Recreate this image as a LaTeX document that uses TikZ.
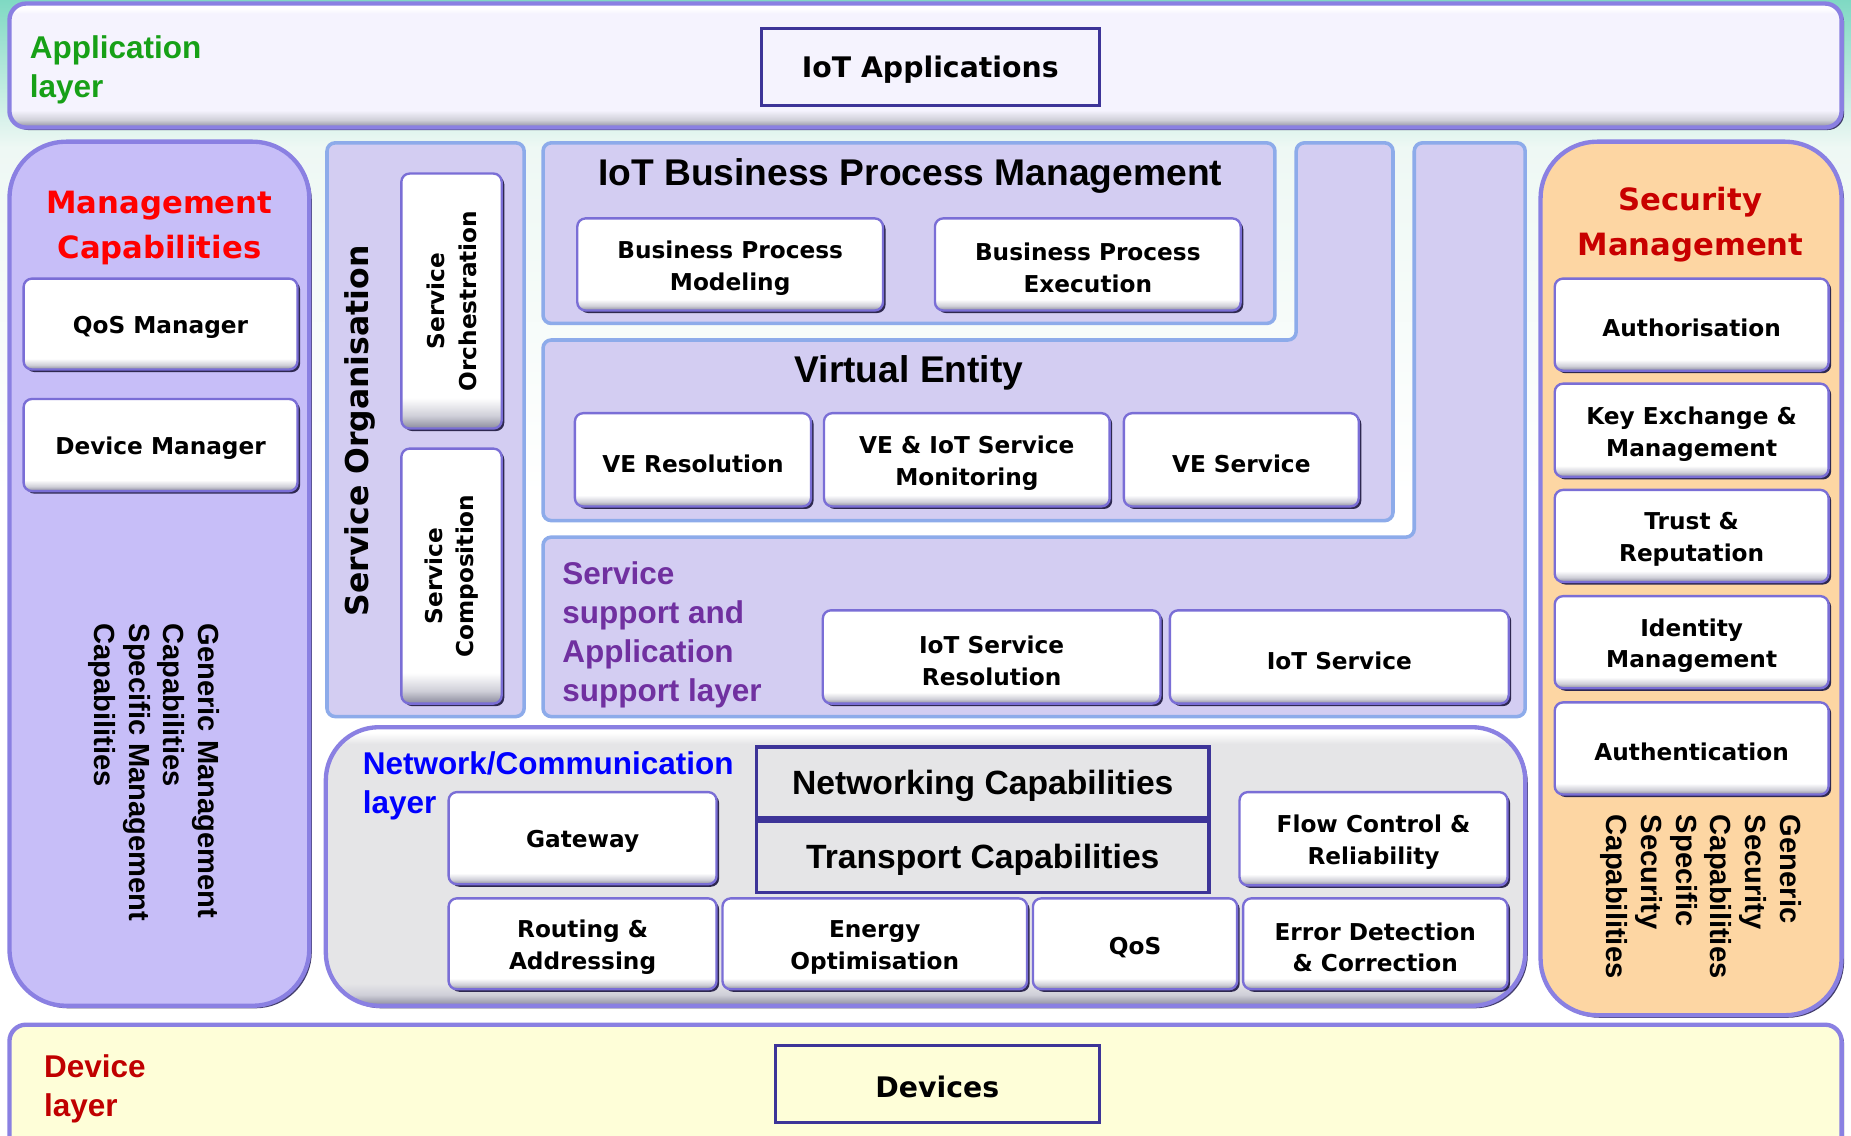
\documentclass[tikz,border=0pt]{standalone}
\usepackage{fontspec}
\setmainfont{DejaVu Sans}
\newfontfamily\arialfont{Liberation Sans}
\usetikzlibrary{fit,shadows}

% palette
\definecolor{bgteal}{HTML}{7FD9C3}
\definecolor{bgpale}{HTML}{EEF8F4}
\definecolor{appfill}{HTML}{F5F3FE}
\definecolor{panelline}{HTML}{8A80E2}
\definecolor{panelshadow}{HTML}{302A5E}
\definecolor{mgmtfill}{HTML}{C7BEF8}
\definecolor{lavfill}{HTML}{D3CDF2}
\definecolor{blueline}{HTML}{8DABEA}
\definecolor{netfill}{HTML}{E5E5E7}
\definecolor{secfill}{HTML}{FDD6A3}
\definecolor{devfill}{HTML}{FEFED8}
\definecolor{boxline}{HTML}{7A6ED6}
\definecolor{boxshadow}{HTML}{2E2850}
\definecolor{boxdk}{HTML}{8A8A9C}
\definecolor{boxmid}{HTML}{CFCFD8}
\definecolor{darkline}{HTML}{3D3498}
\definecolor{appgreen}{HTML}{17A017}
\definecolor{mgmtred}{HTML}{FF0000}
\definecolor{secred}{HTML}{C80000}
\definecolor{netblue}{HTML}{0000FF}
\definecolor{sspurple}{HTML}{7030A0}
\definecolor{devred}{HTML}{C00000}

% white face with a grey bevel along the bottom edge
\pgfdeclareverticalshading{boxshade}{100bp}{color(0bp)=(boxdk); color(25bp)=(boxdk); color(27.5bp)=(boxmid); color(31bp)=(white); color(100bp)=(white)}
\pgfdeclareverticalshading{appshade}{100bp}{color(0bp)=(boxdk); color(25bp)=(boxdk); color(28bp)=(boxmid); color(32bp)=(appfill); color(71bp)=(appfill); color(73bp)=(white); color(100bp)=(white)}
\pgfdeclareverticalshading{netshade}{100bp}{color(0bp)=(boxdk); color(25bp)=(boxdk); color(27bp)=(boxmid); color(29bp)=(netfill); color(72bp)=(netfill); color(74bp)=(white); color(100bp)=(white)}

\newcommand\bxfont{\fontsize{11.8pt}{16.2pt}\selectfont\bfseries}
\newcommand\bigbxfont{\fontsize{14.4pt}{18pt}\selectfont\bfseries}
\newcommand\redtitlefont{\fontsize{15.6pt}{22.8pt}\selectfont\bfseries}
\newcommand\paneltitlefont{\arialfont\bfseries\fontsize{18.9pt}{22pt}\selectfont}
\newcommand\capfont{\arialfont\bfseries\fontsize{17.1pt}{20pt}\selectfont}
\newcommand\layerfont{\arialfont\bfseries\fontsize{16pt}{19.8pt}\selectfont}
\newcommand\vertfont{\arialfont\bfseries\fontsize{14.8pt}{17.7pt}\selectfont}

\begin{document}
\begin{tikzpicture}[x=0.6pt,y=-0.6pt,
  % a box spans two corners (#1) and carries its text (#2) centred inside
  box/.style 2 args={fit={#1}, inner sep=0pt, rounded corners=4.2pt, draw=boxline,
    line width=1.2pt, shade, shading=boxshade,
    drop shadow={shadow xshift=1.3pt, shadow yshift=-1.3pt, fill=boxshadow, opacity=1},
    label={[font=\bxfont, align=center, inner sep=0pt, yshift=-1.8pt]center:#2}},
  plainbox/.style 2 args={fit={#1}, inner sep=0pt, draw=darkline, line width=1.5pt,
    label={[font=\bigbxfont, inner sep=0pt, yshift=-1.5pt]center:#2}},
  capbox/.style 2 args={fit={#1}, inner sep=0pt, fill=netfill, draw=darkline, line width=1.8pt,
    label={[font=\capfont, inner sep=0pt, yshift=-1.6pt]center:#2}},
  panel/.style={draw=panelline, line width=2.2pt, rounded corners=#1,
    drop shadow={shadow xshift=1.3pt, shadow yshift=-1.3pt, fill=panelshadow, opacity=0.9}},
  lpanel/.style={fill=lavfill, draw=blueline, line width=1.8pt, rounded corners=4.2pt},
  layerlabel/.style={font=\layerfont, align=left, inner sep=0pt, anchor=west},
  vertlabel/.style={font=\vertfont, align=left, inner sep=0pt, rotate=-90, anchor=north west},
]
\useasboundingbox (0,0) rectangle (1568,962);
\clip (0,0) rectangle (1568,962);

% background wash
\fill[white] (0,0) rectangle (1568,962);
\shade[top color=bgteal, bottom color=bgpale] (0,0) rectangle (1568,125);
\shade[top color=bgpale, bottom color=white] (0,125) rectangle (1568,420);

% ---------------- application layer ----------------
\path[panel=8.4pt, shade, shading=appshade] (8,3) rectangle (1560,108);
\node[layerlabel, text=appgreen] (applabel) at (25,59.5) {Application\\layer};
\node[plainbox={(645,24)(931,89)}{IoT Applications}] (apps) {};

% ---------------- management capabilities ----------------
\path[panel=28.8pt, fill=mgmtfill] (8,120) rectangle (262,852);
\node[font=\redtitlefont, text=mgmtred, align=center] (mgmttitle) at (135,193.5) {Management\\Capabilities};
\node[box={(20,236)(252,313)}{QoS Manager}] (qosmgr) {};
\node[box={(20,338)(252,416)}{Device Manager}] (devmgr) {};
\node[vertlabel] (mgmtcaps) at (186.5,528) {Generic Management\\Capabilities\\Specific Management\\Capabilities};

% ---------------- service organisation ----------------
\path[lpanel] (277,121) rectangle (444,607);
\node[rotate=90, font={\fontsize{16pt}{19pt}\selectfont\bfseries}] (sorg) at (305,365) {Service Organisation};
\node[box={(340,147)(425,363)}{}] (orch) {};
\node[rotate=90, align=center, font=\bxfont] (orchtext) at (orch.center) {Service\\Orchestration};
\node[box={(340,380)(425,596)}{}] (comp) {};
\node[rotate=90, align=center, font=\bxfont] (comptext) at (comp.center) {Service\\Composition};

% ---------------- IoT business process management ----------------
\path[lpanel] (460,121) rectangle (1080,274);
\node[font=\paneltitlefont] (bpmtitle) at (771,149) {IoT Business Process Management};
\node[box={(489,185)(748,263)}{Business Process\\Modeling}] (bpmodel) {};
\node[box={(792,185)(1051,263)}{Business Process\\Execution}] (bpexec) {};

% ---------------- virtual entity ----------------
\path[lpanel] (460,288) -- (1098,288) -- (1098,121) -- (1180,121) -- (1180,441) -- (460,441) -- cycle;
\node[font=\paneltitlefont] (vetitle) at (770,316) {Virtual Entity};
\node[box={(487,350)(687,429)}{VE Resolution}] (veres) {};
\node[box={(698,350)(940,429)}{VE \& IoT Service\\Monitoring}] (vemon) {};
\node[box={(952,350)(1151,429)}{VE Service}] (veserv) {};

% ---------------- service support and application support ----------------
\path[lpanel] (460,455) -- (1198,455) -- (1198,121) -- (1292,121) -- (1292,607) -- (460,607) -- cycle;
\node[layerlabel, text=sspurple] (sslabel) at (476,537.5) {Service\\support and\\Application\\support layer};
\node[box={(697,517)(983,596)}{IoT Service\\Resolution}] (iotres) {};
\node[box={(991,517)(1278,596)}{IoT Service}] (iotserv) {};

% ---------------- network / communication layer ----------------
\path[panel=27pt, shade, shading=netshade] (276,616) rectangle (1292,852);
\node[layerlabel, text=netblue] (netlabel) at (307,665.5) {Network/Communication\\layer};
\node[box={(380,671)(607,749)}{Gateway}] (gateway) {};
\node[capbox={(641,633)(1024,693)}{Networking Capabilities}] (netcap) {};
\node[capbox={(641,696)(1024,756)}{Transport Capabilities}] (transcap) {};
\node[box={(1050,671)(1277,750)}{Flow Control \&\\Reliability}] (flow) {};
\node[box={(380,761)(607,838)}{Routing \&\\Addressing}] (routing) {};
\node[box={(612,761)(870,838)}{Energy\\Optimisation}] (energy) {};
\node[box={(875,761)(1048,838)}{QoS}] (qos) {};
\node[box={(1053,761)(1277,838)}{Error Detection\\\& Correction}] (errdet) {};

% ---------------- security management ----------------
\path[panel=28.8pt, fill=secfill] (1305,120) rectangle (1560,860);
\node[font=\redtitlefont, text=secred, align=center] (sectitle) at (1432,190) {Security\\Management};
\node[box={(1317,236)(1549,314)}{Authorisation}] (authz) {};
\node[box={(1317,325)(1549,404)}{Key Exchange \&\\Management}] (keyex) {};
\node[box={(1317,415)(1549,493)}{Trust \&\\Reputation}] (trust) {};
\node[box={(1317,505)(1549,583)}{Identity\\Management}] (ident) {};
\node[box={(1317,595)(1549,673)}{Authentication}] (authn) {};
\node[vertlabel] (seccaps) at (1526.5,690) {Generic\\Security\\Capabilities\\Specific\\Security\\Capabilities};

% ---------------- device layer ----------------
\path[panel=8.4pt, fill=devfill] (8,868) rectangle (1560,990);
\node[layerlabel, text=devred] (devlabel) at (37,922.5) {Device\\layer};
\node[plainbox={(657,886)(931,951)}{Devices}, fill=devfill] (devices) {};
\end{tikzpicture}
\end{document}
